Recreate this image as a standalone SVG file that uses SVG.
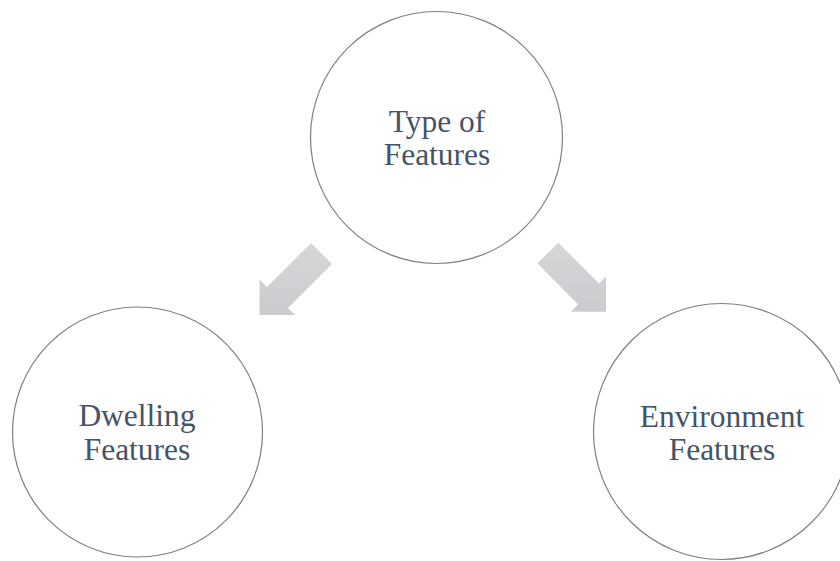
<svg xmlns="http://www.w3.org/2000/svg" width="840" height="561" viewBox="0 0 840 561">
  <style>
    .node circle { fill: #ffffff; stroke: #7f7f7f; stroke-width: 1.2; }
    .label { font-family: "Liberation Serif", "Times New Roman", serif; font-size: 31.5px; fill: #44546a; text-anchor: middle; }
    .arrow { fill: url(#arrowGrad); }
  </style>
  <defs>
    <linearGradient id="arrowGrad" x1="0" y1="0" x2="0" y2="1">
      <stop offset="0" stop-color="#d6d7d9"/>
      <stop offset="1" stop-color="#cacbce"/>
    </linearGradient>
  </defs>
  <rect width="840" height="561" fill="#ffffff"/>
  <g id="connectors">
    <polygon class="arrow" points="311,243 332,264 288,308 295,315 259.5,315 259.5,279.5 267,287"/>
    <polygon class="arrow" points="558.3,242.7 599,283.4 606,276.5 606,311.7 571,311.7 578,304.3 537.3,263.3"/>
  </g>
  <g id="node-type" class="node">
    <circle cx="436.5" cy="137.5" r="126"/>
    <text class="label" x="437" y="131.5">Type of</text>
    <text class="label" x="437" y="165">Features</text>
  </g>
  <g id="node-dwelling" class="node">
    <circle cx="137.5" cy="432" r="125"/>
    <text class="label" x="137" y="426">Dwelling</text>
    <text class="label" x="137" y="460">Features</text>
  </g>
  <g id="node-environment" class="node">
    <circle cx="721.5" cy="431.5" r="128"/>
    <text class="label" x="722" y="426.5">Environment</text>
    <text class="label" x="722" y="460">Features</text>
  </g>
</svg>
